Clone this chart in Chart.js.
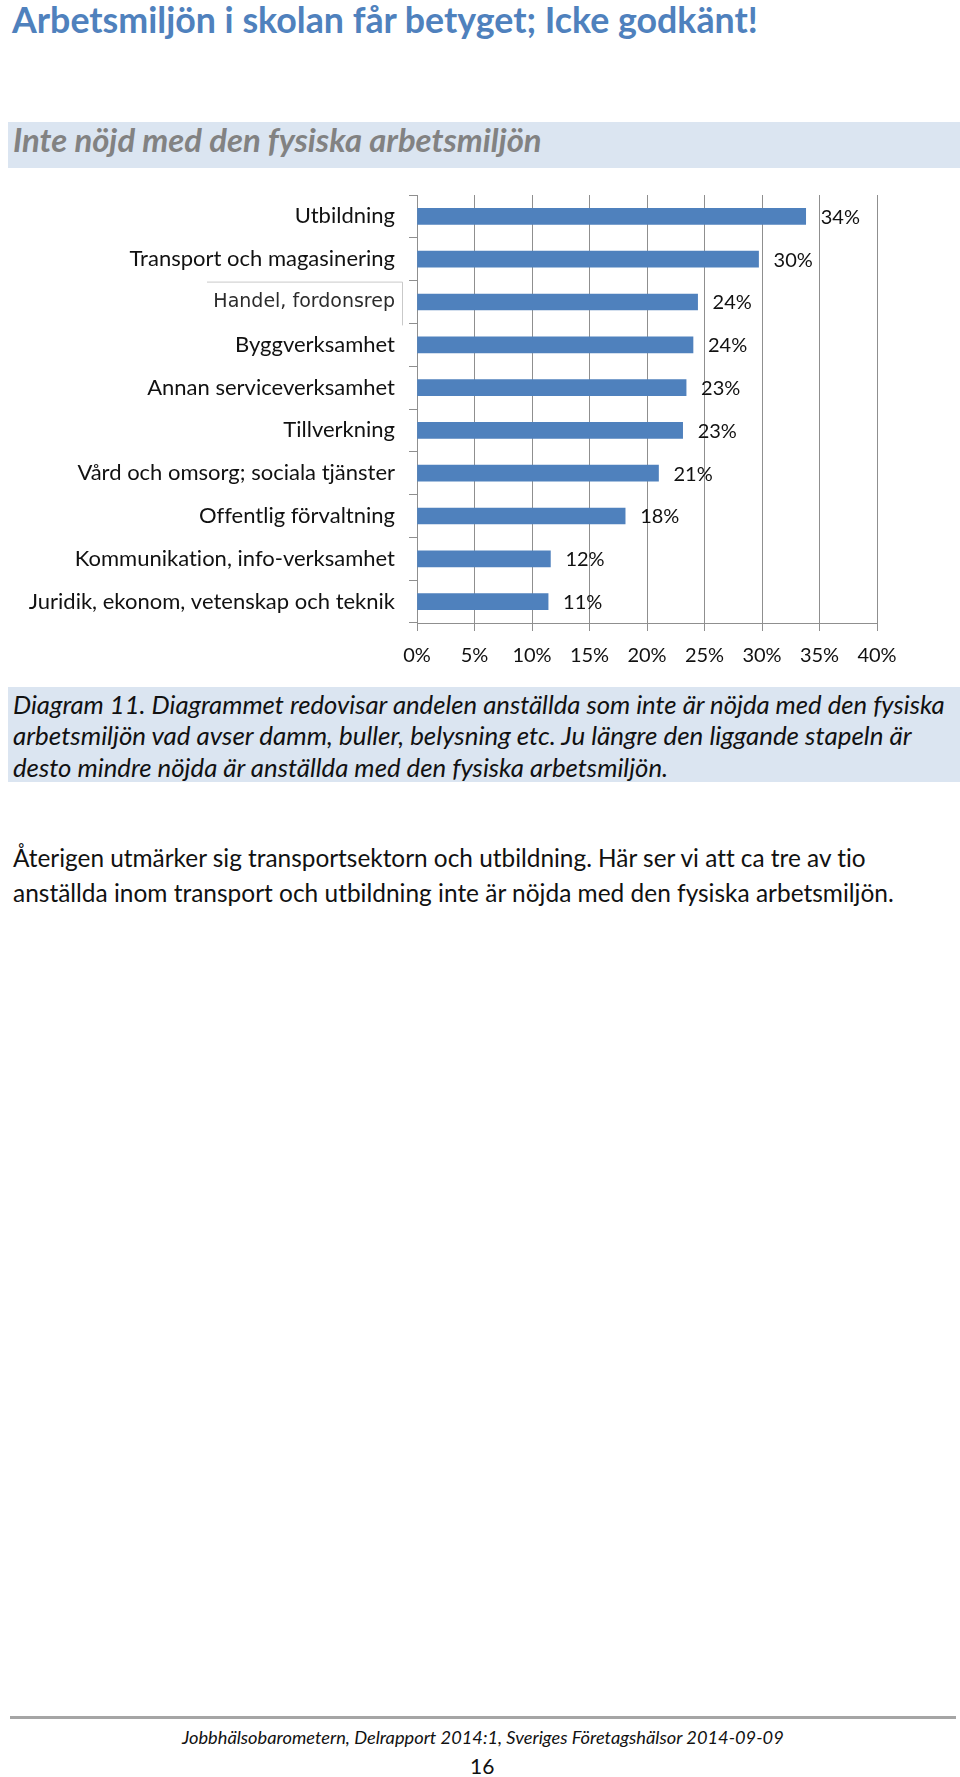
<!DOCTYPE html>
<html lang="sv">
<head>
<meta charset="utf-8">
<title>Inte nöjd med den fysiska arbetsmiljön</title>
<script src="https://cdn.jsdelivr.net/npm/chart.js@4.4.1/dist/chart.umd.min.js"></script>
<style>
  html, body { margin: 0; padding: 0; background: #fff; }
  body { width: 960px; height: 1777px; position: relative; overflow: hidden; font-family: Lato, "Open Sans", sans-serif; color: #111; font-variant-ligatures: none; }
  .line { position: absolute; white-space: nowrap; line-height: 1; }
  .band { position: absolute; background: #dbe5f1; }
  #title { left: 12px; font-size: 33px; font-weight: 700; color: #4f81bd; }
  #sub { left: 13px; font-size: 28px; font-weight: 700; font-style: italic; color: #828282; }
  .cap { left: 13px; font-size: 21px; font-style: italic; color: #111; }
  .par { left: 13px; font-size: 21px; color: #111; }
  #foot { left: 182px; font-size: 16px; font-style: italic; color: #111; }
  #page { left: 470px; font-size: 21px; color: #111; }
  #rule { position: absolute; left: 10px; top: 1716px; width: 946px; height: 3px; background: #a5a5a5; }
  #chart-wrap { position: absolute; left: 0; top: 180px; width: 960px; height: 503px; }
</style>
</head>
<body>

<div class="line" id="title" data-w="746" data-base="34">Arbetsmiljön i skolan får betyget; Icke godkänt!</div>

<div class="band" style="left:8px; top:122px; width:952px; height:46px;"></div>
<div class="line" id="sub" data-w="529" data-base="153">Inte nöjd med den fysiska arbetsmiljön</div>

<div id="chart-wrap"><canvas id="bars"></canvas></div>

<div class="band" style="left:8px; top:687px; width:952px; height:95px;"></div>
<div class="line cap" data-w="932" data-base="715">Diagram 11. Diagrammet redovisar andelen anställda som inte är nöjda med den fysiska</div>
<div class="line cap" data-w="899" data-base="746">arbetsmiljön vad avser damm, buller, belysning etc. Ju längre den liggande stapeln är</div>
<div class="line cap" data-w="655" data-base="778">desto mindre nöjda är anställda med den fysiska arbetsmiljön.</div>

<div class="line par" data-w="853" data-base="868">Återigen utmärker sig transportsektorn och utbildning. Här ser vi att ca tre av tio</div>
<div class="line par" data-w="881" data-base="903">anställda inom transport och utbildning inte är nöjda med den fysiska arbetsmiljön.</div>

<div id="rule"></div>
<div class="line" id="foot" data-w="602" data-base="1744">Jobbhälsobarometern, Delrapport 2014:1, Sveriges Företagshälsor 2014-09-09</div>
<div class="line" id="page" data-base="1774">16</div>

<script>
// Data
const branscher = [
  'Utbildning',
  'Transport och magasinering',
  'Handel, fordonsrep',
  'Byggverksamhet',
  'Annan serviceverksamhet',
  'Tillverkning',
  'Vård och omsorg; sociala tjänster',
  'Offentlig förvaltning',
  'Kommunikation, info-verksamhet',
  'Juridik, ekonom, vetenskap och teknik'
];
const andelInteNojd = [33.8, 29.7, 24.4, 24.0, 23.4, 23.1, 21.0, 18.1, 11.6, 11.4];
const xTicks = [0, 5, 10, 15, 20, 25, 30, 35, 40];

// Textrader: anpassa storlek till bredd och placera på baslinjen
function placeLines() {
  document.querySelectorAll('.line').forEach(el => {
    let fs = parseFloat(getComputedStyle(el).fontSize);
    if (el.dataset.w) {
      const cur = el.getBoundingClientRect().width;
      if (cur > 0) {
        fs = fs * (+el.dataset.w) / cur;
        el.style.fontSize = fs.toFixed(2) + 'px';
      }
    }
    el.style.top = (+el.dataset.base - 0.887 * fs) + 'px';
  });
}
placeLines();

const labelFont = { family: 'Lato, "Open Sans", sans-serif', size: 22 };
const gridColor = '#8f8f8f';

// Värdeetiketter till höger om staplarna + ramen runt "Handel"-etiketten
const extras = {
  id: 'extras',
  beforeDraw(chart) {
    chart.ctx.textRendering = 'optimizeSpeed';
  },
  afterDatasetsDraw(chart) {
    const ctx = chart.ctx;
    const meta = chart.getDatasetMeta(0);
    ctx.save();
    ctx.font = '20px Lato, "Open Sans", sans-serif';
    ctx.fillStyle = '#111';
    ctx.textAlign = 'left';
    ctx.textBaseline = 'middle';
    meta.data.forEach((bar, i) => {
      ctx.fillText(Math.round(andelInteNojd[i]) + '%', bar.x + 15, bar.y + 1);
    });

    const y = chart.scales.y;
    const step = y.getPixelForValue(1) - y.getPixelForValue(0);
    const top = y.getPixelForValue(2) - step / 2;
    const right = chart.chartArea.left - 15;
    ctx.strokeStyle = '#c9c9c9';
    ctx.lineWidth = 1;
    ctx.beginPath();
    ctx.moveTo(right - 195, top + 1.5);
    ctx.lineTo(right + 0.5, top + 1.5);
    ctx.lineTo(right + 0.5, top + step + 2);
    ctx.stroke();
    ctx.restore();
  }
};

new Chart(document.getElementById('bars'), {
  type: 'bar',
  data: {
    labels: branscher,
    datasets: [{
      data: andelInteNojd,
      backgroundColor: '#4f81bd',
      borderWidth: 0,
      barThickness: 16
    }]
  },
  options: {
    indexAxis: 'y',
    responsive: true,
    maintainAspectRatio: false,
    animation: false,
    layout: { padding: { top: 15, right: 83, left: 0, bottom: 0 } },
    plugins: {
      legend: { display: false },
      tooltip: { enabled: false }
    },
    scales: {
      x: {
        min: 0,
        max: 40,
        afterBuildTicks: s => { s.ticks = xTicks.map(v => ({ value: v })); },
        afterFit: s => { s.height = 60; s.paddingLeft = 0; s.paddingRight = 0; },
        grid: { color: gridColor, tickLength: 8, drawTicks: true },
        border: { color: gridColor },
        ticks: {
          font: { family: 'Lato, "Open Sans", sans-serif', size: 20 },
          color: '#111',
          padding: 13,
          callback: v => v + '%'
        }
      },
      y: {
        afterFit: s => { s.width = 417; s.paddingTop = 0; s.paddingBottom = 0; },
        grid: { drawOnChartArea: false, color: gridColor, tickLength: 8 },
        border: { color: gridColor },
        ticks: {
          padding: 14,
          color: c => c.index === 2 ? '#2b2b2b' : '#111',
          font: c => c.index === 2
            ? { family: '"DejaVu Sans", sans-serif', size: 19 }
            : labelFont
        }
      }
    }
  },
  plugins: [extras]
});
</script>
</body>
</html>
